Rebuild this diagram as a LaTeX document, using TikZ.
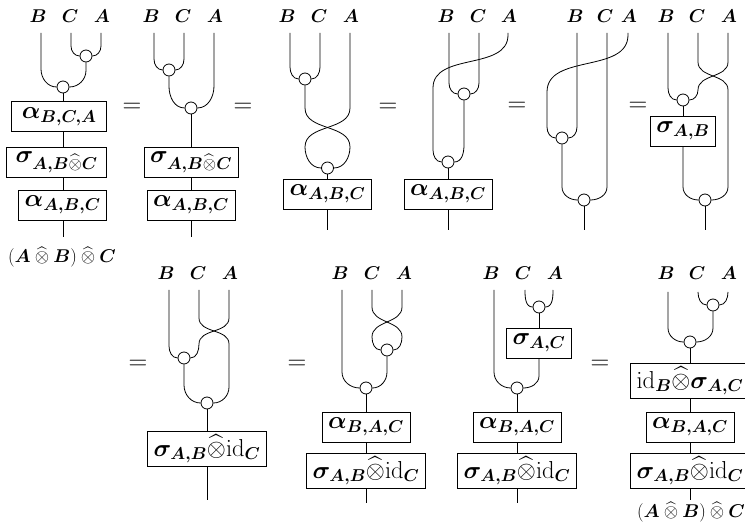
\RequirePackage{fix-cm}
\documentclass[tikz,border=0pt]{standalone}
\usepackage{amsmath,bm}
\usetikzlibrary{backgrounds}
\newcommand\lblfont{\fontsize{18.5}{22}\selectfont}
\newcommand\boxfont{\fontsize{24.5}{29}\selectfont}
\newcommand\eqfont{\fontsize{26}{30}\selectfont}
\newcommand\botfont{\fontsize{18.5}{22}\selectfont}
\newcommand\hot{\widehat{\otimes}}
\newcommand\bhot{\mathbin{\widehat{\otimes}}}
\begin{document}
\begin{tikzpicture}[x=1pt,y=-1pt,
  wire/.style={line width=0.8pt},
  dot/.style={circle,draw,line width=0.8pt,fill=white,inner sep=0pt,minimum size=12pt},
  mbox/.style={draw,line width=0.8pt,fill=white,inner xsep=6pt,inner ysep=3pt,minimum height=30pt,font=\boxfont},
  lbl/.style={inner sep=0pt,font=\lblfont},
  eqs/.style={inner sep=0pt,font=\eqfont},
  bot/.style={inner sep=0pt,font=\botfont}]
\useasboundingbox (0,0) rectangle (745,529);

% ---------- diagram 1 ----------
\node[lbl] (l1b) at (38,16) {$\bm{B}$};
\node[lbl] (l1c) at (70,16) {$\bm{C}$};
\node[lbl] (l1a) at (102,16) {$\bm{A}$};
\coordinate (t1b) at (41,33);
\coordinate (t1c) at (71,33);
\coordinate (t1a) at (101,33);
\node[dot] (c1a) at (86,56) {};
\node[dot] (c1b) at (63,87) {};
\node[mbox,anchor=east,inner xsep=10pt] (b1a) at (107,116.5) {$\bm{\alpha}_{\bm{B,C,A}}$};
\node[mbox,anchor=east,inner xsep=9pt] (b1b) at (107,162) {$\bm{\sigma}_{\bm{A,B}\hot\bm{C}}$};
\node[mbox,anchor=east] (b1c) at (107,205) {$\bm{\alpha}_{\bm{A,B,C}}$};
\coordinate (e1) at (63,237);
\node[bot] (r1) at (62,257) {$(\bm{A}\bhot\bm{B})\bhot\bm{C}$};
\node[eqs] (q1) at (132,108) {$=$};

% ---------- diagram 2 ----------
\node[lbl] (l2b) at (151,16) {$\bm{B}$};
\node[lbl] (l2c) at (183,16) {$\bm{C}$};
\node[lbl] (l2a) at (215,16) {$\bm{A}$};
\coordinate (t2b) at (154,33);
\coordinate (t2c) at (184,33);
\coordinate (t2a) at (214,33);
\node[dot] (c2a) at (169,70) {};
\node[dot] (c2b) at (191,108) {};
\node[mbox] (b2a) at (191,162) {$\bm{\sigma}_{\bm{A,B}\hot\bm{C}}$};
\node[mbox] (b2b) at (191,205) {$\bm{\alpha}_{\bm{A,B,C}}$};
\coordinate (e2) at (191,237);
\node[eqs] (q2) at (243,108) {$=$};

% ---------- diagram 3 ----------
\node[lbl] (l3b) at (287,16) {$\bm{B}$};
\node[lbl] (l3c) at (319,16) {$\bm{C}$};
\node[lbl] (l3a) at (351,16) {$\bm{A}$};
\coordinate (t3b) at (290,33);
\coordinate (t3c) at (320,33);
\coordinate (t3a) at (350,33);
\node[dot] (c3a) at (305,79) {};
\node[dot] (c3b) at (327.5,168) {};
\node[mbox] (b3) at (327.5,194) {$\bm{\alpha}_{\bm{A,B,C}}$};
\coordinate (e3) at (327.5,230);
\node[eqs] (q3) at (388,108) {$=$};

% ---------- diagram 4 ----------
\node[lbl] (l4b) at (446,16) {$\bm{B}$};
\node[lbl] (l4c) at (478,16) {$\bm{C}$};
\node[lbl] (l4a) at (509,16) {$\bm{A}$};
\coordinate (t4b) at (449,33);
\coordinate (t4c) at (479,33);
\coordinate (t4a) at (508,33);
\node[dot] (c4a) at (464,94) {};
\node[dot] (c4b) at (448,162) {};
\node[mbox] (b4) at (448,194) {$\bm{\alpha}_{\bm{A,B,C}}$};
\coordinate (e4) at (448,230);
\node[eqs] (q4) at (517,107) {$=$};

% ---------- diagram 5 ----------
\node[lbl] (l5b) at (575,16) {$\bm{B}$};
\node[lbl] (l5c) at (605,16) {$\bm{C}$};
\node[lbl] (l5a) at (629,16) {$\bm{A}$};
\coordinate (t5b) at (577,33);
\coordinate (t5c) at (607,33);
\coordinate (t5a) at (628,33);
\node[dot] (c5a) at (562,138) {};
\node[dot] (c5b) at (584,200) {};
\coordinate (e5) at (584,230);
\node[eqs] (q5) at (638,107) {$=$};

% ---------- diagram 6 ----------
\node[lbl] (l6b) at (666,16) {$\bm{B}$};
\node[lbl] (l6c) at (697,16) {$\bm{C}$};
\node[lbl] (l6a) at (729,16) {$\bm{A}$};
\coordinate (t6b) at (668,33);
\coordinate (t6c) at (698,33);
\coordinate (t6a) at (728,33);
\node[dot] (c6a) at (683,100) {};
\node[mbox] (b6) at (683,131) {$\bm{\sigma}_{\bm{A,B}}$};
\node[dot] (c6b) at (705,200) {};
\coordinate (e6) at (705,230);

% ---------- diagram 7 ----------
\node[eqs] (q7) at (138,365) {$=$};
\node[lbl] (l7b) at (166,273) {$\bm{B}$};
\node[lbl] (l7c) at (198,273) {$\bm{C}$};
\node[lbl] (l7a) at (230,273) {$\bm{A}$};
\coordinate (t7b) at (169,290);
\coordinate (t7c) at (199,290);
\coordinate (t7a) at (229,290);
\node[dot] (c7a) at (184,358) {};
\node[dot] (c7b) at (207,403) {};
\node[mbox] (b7) at (207,449) {$\bm{\sigma}_{\bm{A,B}}\hot\mathrm{id}_{\bm{C}}$};
\coordinate (e7) at (207,500);

% ---------- diagram 8 ----------
\node[eqs] (q8) at (297,365) {$=$};
\node[lbl] (l8b) at (340,273) {$\bm{B}$};
\node[lbl] (l8c) at (372,273) {$\bm{C}$};
\node[lbl] (l8a) at (404,273) {$\bm{A}$};
\coordinate (t8b) at (342,290);
\coordinate (t8c) at (372,290);
\coordinate (t8a) at (402,290);
\node[dot] (c8a) at (387,350) {};
\node[dot] (c8b) at (366,388) {};
\node[mbox] (b8a) at (366,427) {$\bm{\alpha}_{\bm{B,A,C}}$};
\node[mbox] (b8b) at (366,471) {$\bm{\sigma}_{\bm{A,B}}\hot\mathrm{id}_{\bm{C}}$};
\coordinate (e8) at (366,503);

% ---------- diagram 9 ----------
\node[eqs] (q9) at (600,365) {$=$};
\node[lbl] (l9b) at (491,273) {$\bm{B}$};
\node[lbl] (l9c) at (523,273) {$\bm{C}$};
\node[lbl] (l9a) at (555,273) {$\bm{A}$};
\coordinate (t9b) at (494,290);
\coordinate (t9c) at (525,290);
\coordinate (t9a) at (553,290);
\node[dot] (c9a) at (539,307) {};
\node[mbox] (b9a) at (539,343) {$\bm{\sigma}_{\bm{A,C}}$};
\node[dot] (c9b) at (517,388) {};
\node[mbox] (b9b) at (517,427) {$\bm{\alpha}_{\bm{B,A,C}}$};
\node[mbox] (b9c) at (517,471) {$\bm{\sigma}_{\bm{A,B}}\hot\mathrm{id}_{\bm{C}}$};
\coordinate (e9) at (517,503);

% ---------- diagram 10 ----------
\node[lbl] (l10b) at (666,273) {$\bm{B}$};
\node[lbl] (l10c) at (697,273) {$\bm{C}$};
\node[lbl] (l10a) at (729,273) {$\bm{A}$};
\coordinate (t10b) at (668,292);
\coordinate (t10c) at (698,292);
\coordinate (t10a) at (728,292);
\node[dot] (c10a) at (713,305) {};
\node[dot] (c10b) at (690,342) {};
\node[mbox] (b10a) at (690,381) {$\mathrm{id}_{\bm{B}}\hot\bm{\sigma}_{\bm{A,C}}$};
\node[mbox] (b10b) at (690,427) {$\bm{\alpha}_{\bm{B,A,C}}$};
\node[mbox] (b10c) at (690,471) {$\bm{\sigma}_{\bm{A,B}}\hot\mathrm{id}_{\bm{C}}$};
\coordinate (e10) at (690,500);
\node[bot] (r10) at (691,512) {$(\bm{A}\bhot\bm{B})\bhot\bm{C}$};

\begin{pgfonlayer}{background}
\fill[white] (0,0) rectangle (745,529);
% d1
\draw[wire] (t1c) -- ++(0,13) to[out=-90,in=180] (c1a.west);
\draw[wire] (t1a) -- ++(0,13) to[out=-90,in=0] (c1a.east);
\draw[wire] (t1b) -- ++(0,36) to[out=-90,in=180] (c1b.west);
\draw[wire] (c1a.south) -- ++(0,8) to[out=-90,in=0] (c1b.east);
\draw[wire] (c1b.south) -- (c1b.south |- b1a.north);
\draw[wire] (c1b.south |- b1a.south) -- (c1b.south |- b1b.north);
\draw[wire] (c1b.south |- b1b.south) -- (c1b.south |- b1c.north);
\draw[wire] (c1b.south |- b1c.south) -- (e1);
% d2
\draw[wire] (t2b) -- ++(0,26) to[out=-90,in=180] (c2a.west);
\draw[wire] (t2c) -- ++(0,26) to[out=-90,in=0] (c2a.east);
\draw[wire] (c2a.south) -- ++(0,10) to[out=-90,in=180] (c2b.west);
\draw[wire] (t2a) -- ++(0,53) to[out=-90,in=0] (c2b.east);
\draw[wire] (c2b.south) -- (b2a.north);
\draw[wire] (b2a.south) -- (b2b.north);
\draw[wire] (b2b.south) -- (e2);
% d3
\draw[wire] (t3b) -- ++(0,34) to[out=-90,in=180] (c3a.west);
\draw[wire] (t3c) -- ++(0,34) to[out=-90,in=0] (c3a.east);
\draw[wire] (c3a.south) -- (305,108) to[out=-90,in=90] (350,147) to[out=-90,in=0] (c3b.east);
\draw[wire] (t3a) -- (350,108) to[out=-90,in=90] (305,147) to[out=-90,in=180] (c3b.west);
\draw[wire] (c3b.south) -- (b3.north);
\draw[wire] (b3.south) -- (e3);
% d4
\draw[wire] (t4b) -- ++(0,50) to[out=-90,in=180] (c4a.west);
\draw[wire] (t4c) -- ++(0,50) to[out=-90,in=0] (c4a.east);
\draw[wire] (t4a) -- ++(0,2) to[out=-90,in=90] (433,88) -- (433,150) to[out=-90,in=180] (c4b.west);
\draw[wire] (c4a.south) -- (464,145) to[out=-90,in=0] (c4b.east);
\draw[wire] (c4b.south) -- (b4.north);
\draw[wire] (b4.south) -- (e4);
% d5
\draw[wire] (t5a) -- ++(0,2) to[out=-90,in=90] (547,92) -- (547,127) to[out=-90,in=180] (c5a.west);
\draw[wire] (t5b) -- (577,127) to[out=-90,in=0] (c5a.east);
\draw[wire] (c5a.south) -- (562,187) to[out=-90,in=180] (c5b.west);
\draw[wire] (t5c) -- (607,187) to[out=-90,in=0] (c5b.east);
\draw[wire] (c5b.south) -- (e5);
% d6
\draw[wire] (t6a) -- (728,62) to[out=-90,in=90] (698,90) to[out=-90,in=0] (c6a.east);
\draw[wire] (t6c) -- (698,62) to[out=-90,in=90] (728,90) -- (728,187) to[out=-90,in=0] (c6b.east);
\draw[wire] (t6b) -- (668,88) to[out=-90,in=180] (c6a.west);
\draw[wire] (c6a.south) -- (b6.north);
\draw[wire] (b6.south) -- (683,187) to[out=-90,in=180] (c6b.west);
\draw[wire] (c6b.south) -- (e6);
% d7
\draw[wire] (t7c) -- (199,318) to[out=-90,in=90] (229,344) -- (229,387) to[out=-90,in=0] (c7b.east);
\draw[wire] (t7a) -- (229,318) to[out=-90,in=90] (199,344) to[out=-90,in=0] (c7a.east);
\draw[wire] (t7b) -- (169,346) to[out=-90,in=180] (c7a.west);
\draw[wire] (c7a.south) -- (184,385) to[out=-90,in=180] (c7b.west);
\draw[wire] (c7b.south) -- (b7.north);
\draw[wire] (b7.south) -- (e7);
% d8
\draw[wire] (t8c) -- (372,307) to[out=-90,in=90] (402,337) to[out=-90,in=0] (c8a.east);
\draw[wire] (t8a) -- (402,307) to[out=-90,in=90] (372,337) to[out=-90,in=180] (c8a.west);
\draw[wire] (t8b) -- (342,372) to[out=-90,in=180] (c8b.west);
\draw[wire] (c8a.south) -- (387,372) to[out=-90,in=0] (c8b.east);
\draw[wire] (c8b.south) -- (b8a.north);
\draw[wire] (b8a.south) -- (b8b.north);
\draw[wire] (b8b.south) -- (e8);
% d9
\draw[wire] (t9c) to[out=-90,in=180] (c9a.west);
\draw[wire] (t9a) to[out=-90,in=0] (c9a.east);
\draw[wire] (c9a.south) -- (b9a.north);
\draw[wire] (b9a.south) -- (539,376) to[out=-90,in=0] (c9b.east);
\draw[wire] (t9b) -- (494,372) to[out=-90,in=180] (c9b.west);
\draw[wire] (c9b.south) -- (b9b.north);
\draw[wire] (b9b.south) -- (b9c.north);
\draw[wire] (b9c.south) -- (e9);
% d10
\draw[wire] (t10c) to[out=-90,in=180] (c10a.west);
\draw[wire] (t10a) to[out=-90,in=0] (c10a.east);
\draw[wire] (c10a.south) -- (713,328) to[out=-90,in=0] (c10b.east);
\draw[wire] (t10b) -- (668,328) to[out=-90,in=180] (c10b.west);
\draw[wire] (c10b.south) -- (b10a.north);
\draw[wire] (b10a.south) -- (b10b.north);
\draw[wire] (b10b.south) -- (b10c.north);
\draw[wire] (b10c.south) -- (e10);
\end{pgfonlayer}
\end{tikzpicture}
\end{document}
